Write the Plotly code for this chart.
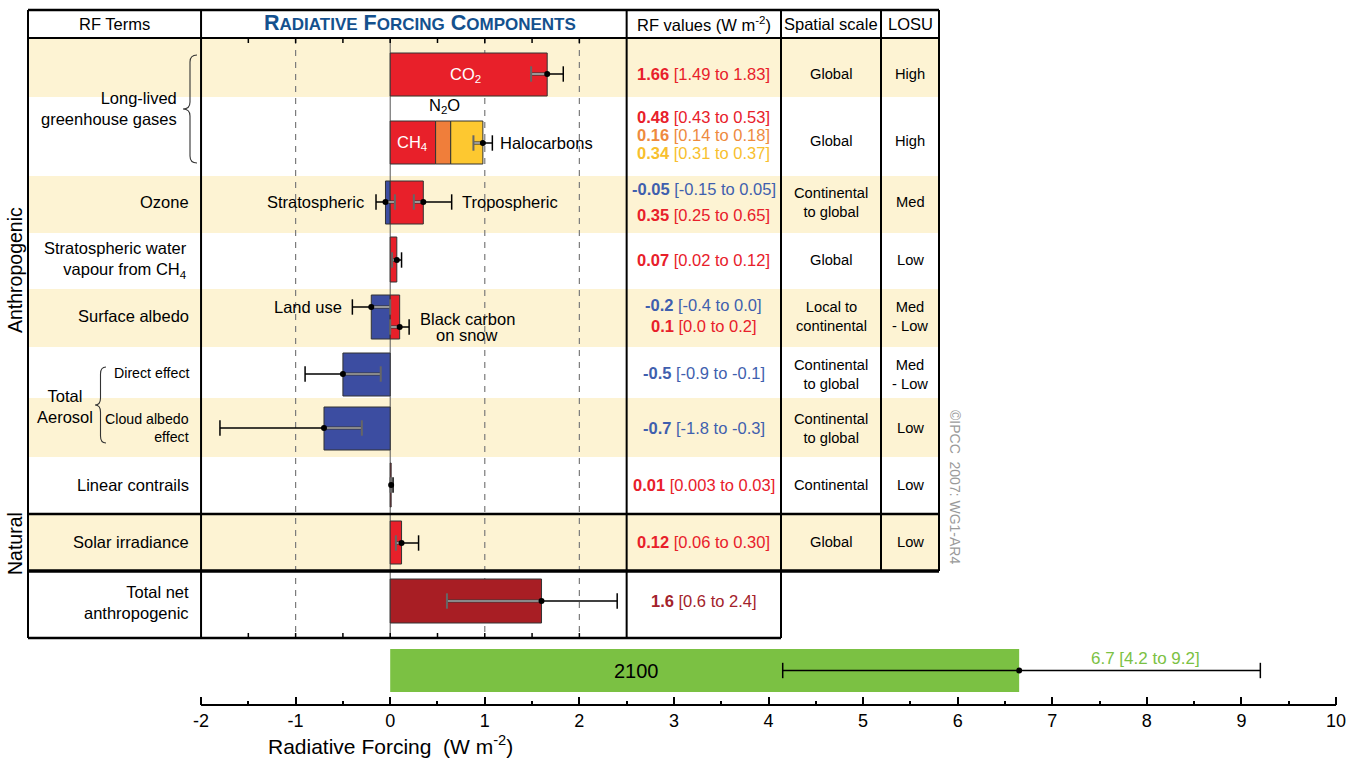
import plotly.graph_objects as go

# ---------------- data ----------------
components = ["CO2", "CH4", "N2O", "Halocarbons", "Stratospheric ozone",
              "Tropospheric ozone", "Stratospheric water vapour", "Land use",
              "Black carbon on snow", "Direct effect", "Cloud albedo effect",
              "Linear contrails", "Solar irradiance", "Total net anthropogenic"]
rf_best = [1.66, 0.48, 0.16, 0.34, -0.05, 0.35, 0.07, -0.2, 0.1, -0.5, -0.7, 0.01, 0.12, 1.6]
rf_low = [1.49, 0.43, 0.14, 0.31, -0.15, 0.25, 0.02, -0.4, 0.0, -0.9, -1.8, 0.003, 0.06, 0.6]
rf_high = [1.83, 0.53, 0.18, 0.37, 0.05, 0.65, 0.12, 0.0, 0.2, -0.1, -0.3, 0.03, 0.30, 2.4]
rf_decimals = [2, 2, 2, 2, 2, 2, 2, 1, 1, 1, 1, 2, 2, 1]
llghg_other_range = [0.88, 1.08]      # whisker drawn on the CH4 + N2O + halocarbon stack
proj_2100 = [6.65, 4.15, 9.2]         # best, low, high (year 2100)

rf_terms = ["Long-lived<br>greenhouse gases", "Ozone",
            "Stratospheric water<br>vapour from CH<sub>4</sub>", "Surface albedo",
            "Direct effect", "Cloud albedo<br>effect", "Linear contrails",
            "Solar irradiance", "Total net<br>anthropogenic"]
spatial_scale = ["Global", "Global", "Continental<br>to global", "Global",
                 "Local to<br>continental", "Continental<br>to global",
                 "Continental<br>to global", "Continental", "Global"]
losu = ["High", "High", "Med", "Low", "Med<br>- Low", "Med<br>- Low", "Low", "Low", "Low"]
axis_ticks = list(range(-2, 11))

# ---------------- styles / layout ----------------
FONT = "Liberation Sans, Arial, Helvetica, sans-serif"
RED = "#E8202A"
ORANGE = "#F07E3A"
YELLOW = "#FDC830"
BLUE = "#3C4DA1"
DARKRED = "#A81E24"
GREEN = "#7BC143"
BEIGE = "#FDF3D3"
TXT_BLUE = "#3F5FAE"
TXT_DARKRED = "#A3222B"
TXT_ORANGE = "#EE8A3E"
TXT_YELLOW = "#F8BF2E"
HEAD_BLUE = "#14518E"

W, H = 1364, 762
PX0, PXU = 390.2, 94.58          # pixel of x=0, pixels per W m-2
AXIS_Y = 705


def X(px):
    return (px - PX0) / PXU


row_edges = [38, 97, 176, 233, 289, 347, 398, 457, 514, 571, 638]
beige_rows = [0, 2, 4, 6, 8]
col_x = [X(28), -2.0, 2.5, X(781), X(881), X(939)]
table_top = 10

comp_bar_y = [74.5, 142.5, 142.5, 142.5, 202.5, 202.5, 259.5, 317, 317, 374.5, 428.5, 485, 542.5, 601]
comp_bar_h = [43, 43, 43, 43, 43, 43, 45, 44, 44, 43, 43, 44, 43, 44]
comp_stack = [0, 1, 1, 1, 2, 3, 4, 5, 6, 7, 8, 9, 10, 11]
comp_colors = [RED, RED, ORANGE, YELLOW, BLUE, RED, RED, BLUE, RED, BLUE, BLUE, RED, RED, DARKRED]
comp_err_y = [74, None, None, None, 202, 202, 260, 307, 327, 374, 428, 485, 543, 601]
llghg_err_y = 143
comp_text_y = [74, 117, 135, 153, 189, 215, 260, 305, 326, 373, 428, 485, 542, 601]
comp_text_col = [RED, RED, TXT_ORANGE, TXT_YELLOW, TXT_BLUE, RED, RED, TXT_BLUE, RED,
                 TXT_BLUE, TXT_BLUE, RED, RED, TXT_DARKRED]
row_text_y = [74, 141, 202, 260, 316, 374, 428, 485, 542]
proj_y = 670.5

# ---------------- figure ----------------
fig = go.Figure()
shapes = []
annotations = []


def ann(x, y, text, size=16.5, color="black", xanchor="center", align="center", **kw):
    annotations.append(dict(x=x, y=y, xref="x", yref="y", text=text, showarrow=False,
                            xanchor=xanchor, yanchor="middle", align=align,
                            font=dict(family=FONT, size=size, color=color), **kw))


def line(x0, y0, x1, y1, width=2, color="black", dash=None, layer="above"):
    shapes.append(dict(type="line", xref="x", yref="y", x0=x0, y0=y0, x1=x1, y1=y1,
                       line=dict(color=color, width=width, dash=dash), layer=layer))


# beige row backgrounds
for i in beige_rows:
    shapes.append(dict(type="rect", xref="x", yref="y", x0=col_x[0], x1=col_x[5],
                       y0=row_edges[i], y1=row_edges[i + 1], fillcolor=BEIGE,
                       line=dict(width=0), layer="below"))

# grid lines in the component panel
for v in [-1, 1, 2]:
    line(v, row_edges[0], v, row_edges[-1], width=1.2, color="#7a7a7a", dash="6px,6px", layer="below")
line(0, row_edges[0], 0, row_edges[-1], width=1, color="#555555", layer="below")
for k in range(8):
    v = -1.5 + 0.5 * k
    line(v, row_edges[0], v, row_edges[0] + 5, width=1.5)
    line(v, row_edges[-1] - 5, v, row_edges[-1], width=1.5)

# table frame
full_right = col_x[5]
line(col_x[0], table_top, full_right, table_top, width=2.5)
line(col_x[0], row_edges[0], full_right, row_edges[0], width=2)
line(col_x[0], row_edges[8], full_right, row_edges[8], width=2.5)
line(col_x[0], row_edges[9], full_right, row_edges[9], width=3.5)
line(col_x[0], row_edges[10], col_x[3], row_edges[10], width=2.5)
for cx in col_x[:4]:
    line(cx, table_top, cx, row_edges[10], width=2)
for cx in col_x[4:]:
    line(cx, table_top, cx, row_edges[9], width=2)


# braces
def brace(px_right, px_tip, y_top, y_bot, r=7):
    xr, xt = X(px_right), X(px_tip)
    xm = (xr + xt) / 2
    ym = (y_top + y_bot) / 2
    path = (f"M {xr},{y_top} Q {xm},{y_top} {xm},{y_top + r} L {xm},{ym - r} "
            f"Q {xm},{ym} {xt},{ym} Q {xm},{ym} {xm},{ym + r} L {xm},{y_bot - r} "
            f"Q {xm},{y_bot} {xr},{y_bot}")
    shapes.append(dict(type="path", xref="x", yref="y", path=path,
                       line=dict(color="#333333", width=1.1)))


brace(197, 183, 55, 163)
brace(106, 95, 367, 443)

# bars (stacked where components share a row)
bases = []
stack_tot = {}
for v, g in zip(rf_best, comp_stack):
    b = stack_tot.get(g, 0.0)
    bases.append(b)
    stack_tot[g] = b + v

fig.add_trace(go.Bar(orientation="h", x=rf_best, base=bases, y=comp_bar_y, width=comp_bar_h,
                     marker=dict(color=comp_colors, line=dict(color="#333333", width=1)),
                     hoverinfo="skip", showlegend=False))
fig.add_trace(go.Bar(orientation="h", x=[proj_2100[0]], base=[0], y=[proj_y], width=[43],
                     marker=dict(color=GREEN, line=dict(width=0)),
                     hoverinfo="skip", showlegend=False))

# error bars
eb_best, eb_lo, eb_hi, eb_y = [], [], [], []
for i in range(len(components)):
    if comp_err_y[i] is None:
        continue
    eb_best.append(rf_best[i]); eb_lo.append(rf_low[i]); eb_hi.append(rf_high[i]); eb_y.append(comp_err_y[i])
eb_best.append(stack_tot[1]); eb_lo.append(llghg_other_range[0]); eb_hi.append(llghg_other_range[1]); eb_y.append(llghg_err_y)

in_x, in_y, out_x, out_y, in_cap, out_cap = [], [], [], [], [], []
for b, lo, hi, y in zip(eb_best, eb_lo, eb_hi, eb_y):
    inner, outer = (lo, hi) if b >= 0 else (hi, lo)
    in_x += [inner, b, None]; in_y += [y, y, None]
    out_x += [b, outer, None]; out_y += [y, y, None]
    in_cap.append((inner, y)); out_cap.append((outer, y))

fig.add_trace(go.Scatter(x=in_x, y=in_y, mode="lines", line=dict(color="#3a3a3a", width=3.2),
                         hoverinfo="skip", showlegend=False))
fig.add_trace(go.Scatter(x=in_x, y=in_y, mode="lines", line=dict(color="#d8d8d8", width=1.2),
                         hoverinfo="skip", showlegend=False))
fig.add_trace(go.Scatter(x=[c[0] for c in in_cap], y=[c[1] for c in in_cap], mode="markers",
                         marker=dict(symbol="line-ns", size=11, line=dict(color="#666666", width=2)),
                         hoverinfo="skip", showlegend=False))
fig.add_trace(go.Scatter(x=out_x, y=out_y, mode="lines", line=dict(color="black", width=1.5),
                         hoverinfo="skip", showlegend=False))
fig.add_trace(go.Scatter(x=[c[0] for c in out_cap], y=[c[1] for c in out_cap], mode="markers",
                         marker=dict(symbol="line-ns", size=11, line=dict(color="black", width=1.5)),
                         hoverinfo="skip", showlegend=False))
fig.add_trace(go.Scatter(x=eb_best, y=eb_y, mode="markers", marker=dict(color="black", size=6),
                         hoverinfo="skip", showlegend=False))

# 2100 whisker
fig.add_trace(go.Scatter(x=[proj_2100[1], proj_2100[2]], y=[proj_y, proj_y], mode="lines+markers",
                         line=dict(color="black", width=1.5),
                         marker=dict(symbol="line-ns", size=11, line=dict(color="black", width=1.5)),
                         hoverinfo="skip", showlegend=False))
fig.add_trace(go.Scatter(x=[proj_2100[0]], y=[proj_y], mode="markers", marker=dict(color="black", size=6),
                         hoverinfo="skip", showlegend=False))

# axis line of the bottom scale
line(axis_ticks[0], AXIS_Y, axis_ticks[-1], AXIS_Y, width=2)


# ---------------- text ----------------
def fmt(v, d):
    s = f"{v:.{d}f}"
    while abs(float(s) - v) > 1e-9 and d < 4:
        d += 1
        s = f"{v:.{d}f}"
    return s


def smallcaps(word, big=21.5, small=17):
    return (f"<span style='font-size:{big}px'>{word[0]}</span>"
            f"<span style='font-size:{small}px'>{word[1:].upper()}</span>")


hy = 24
ann((col_x[0] + col_x[1]) / 2, hy, "RF Terms", 16.5)
ann(X(420), hy - 1, "<b>" + " ".join(smallcaps(w) for w in ["Radiative", "Forcing", "Components"]) + "</b>",
    21.5, HEAD_BLUE)
ann((col_x[2] + col_x[3]) / 2, hy, "RF values (W m<sup>-2</sup>)", 16.5)
ann((col_x[3] + col_x[4]) / 2, hy, "Spatial scale", 16.5)
ann((col_x[4] + col_x[5]) / 2, hy, "LOSU", 16.5)

# RF terms column
ann(X(179), 108, rf_terms[0], xanchor="right", align="right")
ann(X(191), 202, rf_terms[1], xanchor="right", align="right")
ann(X(189), 260, rf_terms[2], xanchor="right", align="right")
ann(X(191), 316, rf_terms[3], xanchor="right", align="right")
ann(X(191), 373, rf_terms[4], 14.2, xanchor="right", align="right")
ann(X(191), 428, rf_terms[5], 14.2, xanchor="right", align="right")
ann(X(191), 485, rf_terms[6], xanchor="right", align="right")
ann(X(191), 542, rf_terms[7], xanchor="right", align="right")
ann(X(191), 602, rf_terms[8], xanchor="right", align="right")
ann(X(65), 406, "Total<br>Aerosol")
ann(X(15), 270, "Anthropogenic", 19.5, textangle=-90)
ann(X(15), 544, "Natural", 19.5, textangle=-90)

# RF values column
vx = (col_x[2] + col_x[3]) / 2
for i in range(len(components)):
    txt = (f"<b>{fmt(rf_best[i], rf_decimals[i])}</b> "
           f"[{fmt(rf_low[i], rf_decimals[i])} to {fmt(rf_high[i], rf_decimals[i])}]")
    ann(vx, comp_text_y[i], txt, 16.5, comp_text_col[i])

# spatial scale / LOSU
sx = (col_x[3] + col_x[4]) / 2
lx = (col_x[4] + col_x[5]) / 2
for i in range(len(spatial_scale)):
    ann(sx, row_text_y[i], spatial_scale[i], 14.7)
    ann(lx, row_text_y[i], losu[i], 14.7)

# labels in the bar panel
ann(X(465), 75, "CO<sub>2</sub>", 16.5, "white")
ann(X(412), 143, "CH<sub>4</sub>", 16.5, "white")
ann(X(444), 106, "N<sub>2</sub>O", 16.5)
ann(X(498), 143, "Halocarbons", 16.5, xanchor="left")
ann(X(366), 202, "Stratospheric", 16.5, xanchor="right")
ann(X(460), 202, "Tropospheric", 16.5, xanchor="left")
ann(X(344), 307, "Land use", 16.5, xanchor="right")
ann(X(467), 319, "Black carbon", 16.5)
ann(X(467), 335, "on snow", 16.5)
ann(X(636), proj_y, "2100", 20)
ann(X(1145), 658, f"{proj_2100[0]:.1f} [{proj_2100[1]:.1f} to {proj_2100[2]:.1f}]", 17, GREEN)

ann(0, 745, "Radiative Forcing\u00a0\u00a0(W m<sup>-2</sup>)", 21)
ann(X(955), 487, "©IPCC\u00a0\u00a02007: WG1-AR4", 14, "#9a9a9a", textangle=90)

fig.update_layout(
    width=W, height=H, margin=dict(l=0, r=0, t=0, b=0),
    paper_bgcolor="white", plot_bgcolor="white",
    barmode="overlay", hovermode=False, showlegend=False,
    shapes=shapes, annotations=annotations,
    xaxis=dict(range=[X(0), X(W)], anchor="free", position=(H - AXIS_Y) / H,
               showgrid=False, zeroline=False, showline=False, fixedrange=True,
               tickmode="array", tickvals=axis_ticks, ticktext=[str(t) for t in axis_ticks],
               ticks="inside", ticklen=8, tickwidth=1.5, tickcolor="black",
               ticklabelstandoff=3,
               minor=dict(tickmode="array", tickvals=[t + 0.5 for t in axis_ticks[:-1]],
                          ticks="inside", ticklen=4, tickwidth=1.5, tickcolor="black", showgrid=False),
               tickfont=dict(family=FONT, size=18, color="black")),
    yaxis=dict(range=[H, 0], visible=False, fixedrange=True),
)

fig.write_html("out.html", config={"displayModeBar": False},
               post_script="document.body.style.margin='0px';document.body.style.overflow='hidden';")
